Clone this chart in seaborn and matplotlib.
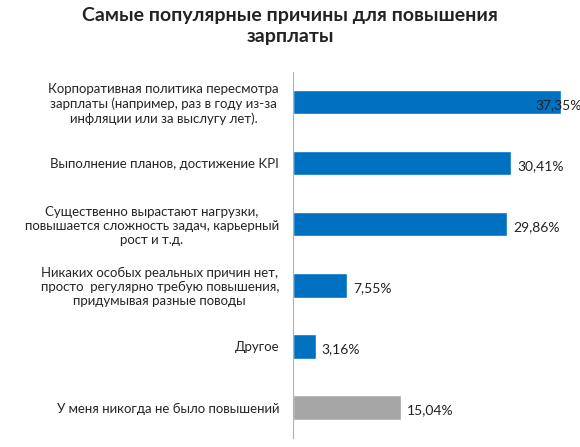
import matplotlib.pyplot as plt
import seaborn as sns
import pandas as pd

reasons = [
    "Корпоративная политика пересмотра\nзарплаты (например, раз в году из-за\nинфляции или за выслугу лет).",
    "Выполнение планов, достижение KPI",
    "Существенно вырастают нагрузки,\nповышается сложность задач, карьерный\nрост и т.д.",
    "Никаких особых реальных причин нет,\nпросто  регулярно требую повышения,\nпридумывая разные поводы",
    "Другое",
    "У меня никогда не было повышений",
]
shares = [37.35, 30.41, 29.86, 7.55, 3.16, 15.04]
labels = ["37,35%", "30,41%", "29,86%", "7,55%", "3,16%", "15,04%"]
colors = ["#0070C0"] * 5 + ["#A6A6A6"]

sns.set_style("white")
plt.rcParams["font.family"] = ["Lato", "DejaVu Sans"]

df = pd.DataFrame({"reason": reasons, "share": shares})
fig = plt.figure(figsize=(5.8, 4.47), dpi=100)
ax = fig.add_axes([0.505, 0.02, 0.495, 0.82])
sns.barplot(data=df, x="share", y="reason", hue="reason", palette=colors,
            legend=False, width=0.4, ax=ax, saturation=1)
ax.set_xlim(0, 40)
ax.set_ylim(5.5, -0.5)
ax.set_xlabel("")
ax.set_ylabel("")
ax.set_xticks([])
ax.tick_params(axis="y", length=0, pad=10, labelsize=9.5)
for t in ax.get_yticklabels():
    t.set_horizontalalignment("right")
    t.set_multialignment("center")
for s in ["top", "right", "bottom"]:
    ax.spines[s].set_visible(False)
ax.spines["left"].set_color("#B0B0B0")
for i, (v, lab) in enumerate(zip(shares, labels)):
    x = v + 0.8 if i else v - 3.6
    ax.text(x, i + 0.05, lab, va="center", ha="left", fontsize=10, color="#222222")

fig.text(0.5, 0.985, "Самые популярные причины для повышения\nзарплаты",
         ha="center", va="top", fontsize=14, fontweight="bold", color="#222222",
         linespacing=1.3)
fig.savefig("out.png", dpi=100)
